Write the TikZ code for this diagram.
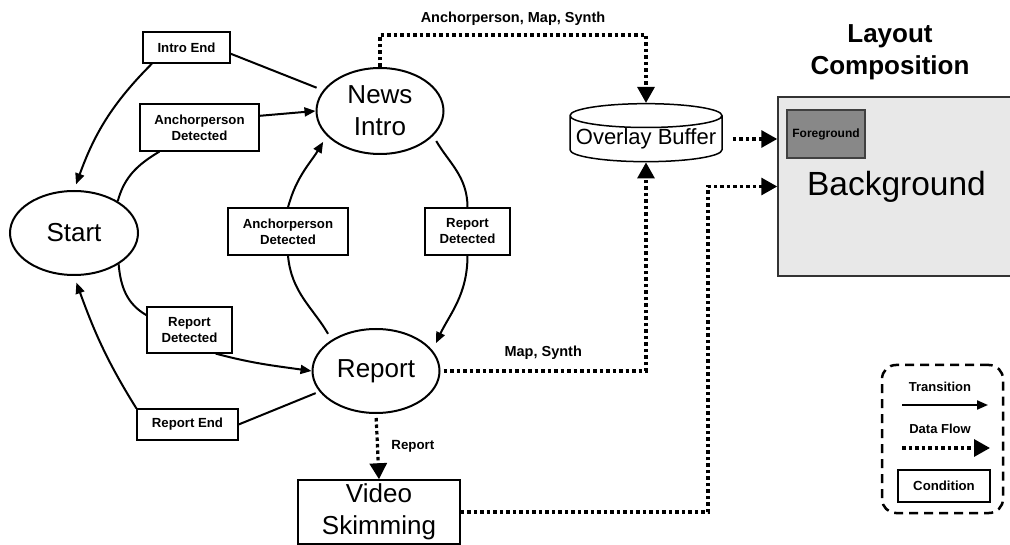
\documentclass[tikz,border=0pt]{standalone}
\usepackage{fontspec}
\setmainfont{Liberation Sans}
\usetikzlibrary{arrows.meta, shapes.geometric}
\definecolor{canvasgray}{RGB}{232,232,232}
\definecolor{fggray}{RGB}{136,136,136}

\begin{document}
\begin{tikzpicture}[x=1pt, y=-1pt,
  phase/.style={ellipse, draw, line width=2pt, inner sep=0pt, align=center,
    minimum width=127pt, minimum height=84pt, font=\fontsize{26}{32}\selectfont},
  cond/.style={rectangle, draw, line width=1.2pt, inner sep=0pt, align=center,
    font=\fontsize{13.2}{16}\selectfont\bfseries},
  link/.style={line width=2pt},
  trans/.style={-{Triangle[length=11pt, width=9pt]}, line width=2pt},
  flow/.style={-{Triangle[length=16pt, width=17pt]}, line width=3.2pt,
    dash pattern=on 3.5pt off 3pt},
  flowlbl/.style={font=\fontsize{14.5}{16}\selectfont\bfseries}
]
\useasboundingbox (0,0) rectangle (1010,545);

% states of the news parser
\node[phase, minimum width=128pt] (start) at (74,233) {Start};
\node[phase, minimum height=86pt] (intro) at (380,111) {News\\Intro};
\node[phase] (report) at (376,371) {Report};

% conditions on the transitions
\node[cond, minimum width=87pt, minimum height=31pt] (introend) at (186.5,47.5) {Intro End};
\node[cond, minimum width=119pt, minimum height=47pt] (anchor1) at (199.5,127.5) {Anchorperson\\Detected};
\node[cond, minimum width=120pt, minimum height=47pt] (anchor2) at (288,231.5) {Anchorperson\\Detected};
\node[cond, minimum width=85pt, minimum height=47pt] (rep1) at (467.5,231.5) {Report\\Detected};
\node[cond, minimum width=85pt, minimum height=46pt] (rep2) at (189.5,330) {Report\\Detected};
\node[cond, minimum width=101pt, minimum height=31pt] (repend) at (187.5,424.5) {Report End};

% transitions
\draw[link, shorten <=7pt] (intro.160) -- (introend.-8);
\draw[trans, shorten >=6pt] (introend.205) to[out=-135, in=70] (start.north);
\draw[link] (start.36) to[out=75, in=211] (anchor1.211);
\draw[trans] (anchor1.11) -- (intro.west);
\draw[link, shorten <=7pt] (report.145) to[out=120, in=-85] (anchor2.south);
\draw[trans, shorten >=7pt] (anchor2.north) to[out=75, in=239] (intro.205);
\draw[link, shorten <=6pt] (intro.-25) to[out=-60, in=90] (rep1.north);
\draw[trans, shorten >=8pt] (rep1.south) to[out=-90, in=65] (report.20);
\draw[link] (start.-35) to[out=-85, in=150] (rep2.161);
\draw[trans] (rep2.-42) to[out=-15, in=172] (report.west);
\draw[link, shorten <=4pt] (report.200) -- (repend.east);
\draw[trans, shorten >=7pt] (repend.north west) to[out=122, in=-70] (start.south);

% output side
\node[draw, line width=1.5pt, minimum width=162pt, minimum height=64pt, inner sep=0pt,
  align=center, font=\fontsize{26}{32}\selectfont] (skim) at (379,512) {Video\\Skimming};
\node[cylinder, shape border rotate=90, aspect=0.17, draw, line width=1.5pt,
  minimum width=152pt, minimum height=58pt, inner sep=0pt,
  font=\fontsize{22}{26}\selectfont] (buf) at (646,139) {Overlay Buffer};
\node[font=\fontsize{26}{32}\selectfont\bfseries, align=center] (title) at (890,52) {Layout\\Composition};
\node[draw=black!80, line width=1.5pt, fill=canvasgray, minimum width=237pt, minimum height=179pt,
  inner sep=0pt, font=\fontsize{33.5}{36}\selectfont] (layout) at (896.5,186.5) {Background};
\node[draw=black!75, line width=1.2pt, fill=fggray, minimum width=78pt, minimum height=48pt,
  inner sep=0pt, font=\fontsize{12}{14}\selectfont\bfseries] (fg) at (826,134) {Foreground};

% data flows
\coordinate (bend) at (708,186.5);
\draw[flow] (intro.north) -- (intro.north |- 0,35) -| node[flowlbl, pos=0.25, above=5pt] (lblams) {Anchorperson, Map, Synth} (buf.north);
\draw[flow, shorten <=3pt] (report.east) -| node[flowlbl, pos=0.25, above=7pt] (lblms) {Map, Synth} (buf.south);
\draw[flow, shorten <=4pt] (report.south) -- node[font=\fontsize{13.3}{16}\selectfont\bfseries, right=9pt] (lblrep) {Report} (skim.north);
\draw[flow] (skim.east) -| (bend) -- (layout.west |- bend);
\draw[flow, shorten <=10pt] (buf.east) -- (layout.west |- buf.east);

% legend
\node[draw, line width=2.5pt, dash pattern=on 9pt off 6pt, rounded corners=14pt,
  minimum width=121pt, minimum height=148pt] (legend) at (942.5,439) {};
\node[font=\fontsize{13}{16}\selectfont\bfseries] (lgtrans) at (940,387) {Transition};
\coordinate (ta) at (902,405);
\coordinate (tb) at (988,405);
\draw[trans] (ta) -- (tb);
\node[font=\fontsize{13}{16}\selectfont\bfseries] (lgflow) at (940,429) {Data Flow};
\coordinate (fa) at (902,448);
\coordinate (fb) at (990,448);
\draw[flow] (fa) -- (fb);
\node[cond, minimum width=92pt, minimum height=32pt] (lgcond) at (944,486) {Condition};
\end{tikzpicture}
\end{document}
